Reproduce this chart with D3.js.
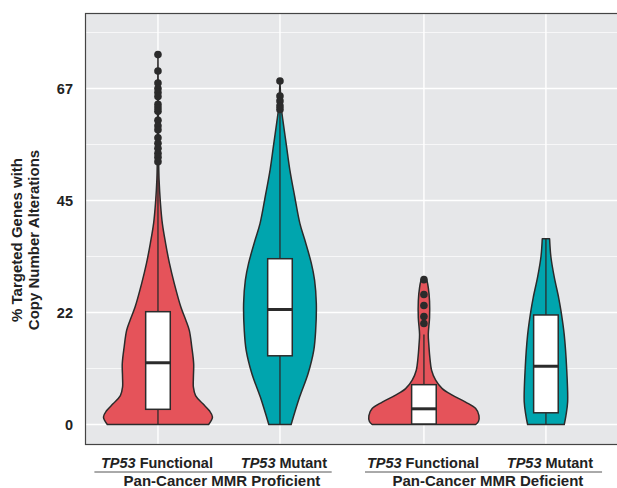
<!DOCTYPE html>
<html>
<head>
<meta charset="utf-8">
<script src="https://cdn.jsdelivr.net/npm/d3@7"></script>
<style>
  html, body { margin: 0; padding: 0; background: #fff; }
  svg text { font-family: "Liberation Sans", Arial, sans-serif; font-weight: bold; fill: #222; }
</style>
</head>
<body>
<svg id="chart" width="617" height="488"></svg>
<script>
// ---- data ----
const groups = ["TP53 Functional", "TP53 Mutant", "TP53 Functional", "TP53 Mutant"];
const groupPos = [1, 2, 3.18, 4.18];
const groupStatus = ["Functional", "Mutant", "Functional", "Mutant"];
const cohortLabels = ["Pan-Cancer MMR Proficient", "Pan-Cancer MMR Deficient"];
const yTickValues = [0, 22.5, 45, 67.5];
const yTickLabels = ["0", "22", "45", "67"];

// violin outlines: [value, relative density]
const violinMMRpFunctional = [[0,0.93],[1.5,1.0],[2.8,0.94],[4.2,0.82],[5.8,0.69],[7.5,0.65],[9.5,0.65],[12.2,0.655],[15.6,0.62],[18.9,0.575],[21,0.51],[23.6,0.42],[28.3,0.30],[32.4,0.21],[36.4,0.14],[40.4,0.08],[44.5,0.045],[49.2,0.02],[52.5,0.013],[60,0.008],[74.3,0]];
const violinMMRpMutant = [[0,0.205],[5.5,0.36],[10.2,0.515],[14.9,0.62],[18.9,0.655],[24.3,0.667],[29,0.635],[32.4,0.575],[37.1,0.455],[40.4,0.365],[45.8,0.27],[51.2,0.18],[55.9,0.12],[60.6,0.06],[63.3,0.028],[69,0]];
const violinMMRdFunctional = [[0,0.95],[0.6,1.0],[1.8,1.01],[3.2,0.95],[4.5,0.765],[5.9,0.52],[7.2,0.336],[8.9,0.215],[10.9,0.14],[13.3,0.11],[16,0.09],[18.1,0.08],[21.4,0.103],[24.8,0.103],[27.5,0.08],[29.2,0.044],[29.7,0.0]];
const violinMMRdMutant = [[0,0.336],[1.8,0.367],[4.5,0.398],[11.3,0.38],[18,0.336],[22.8,0.276],[25.5,0.233],[29.6,0.153],[33.7,0.091],[37.3,0.067]];
const violins = [violinMMRpFunctional, violinMMRpMutant, violinMMRdFunctional, violinMMRdMutant];

// box statistics
const boxLow = [0, 0, 0, 0];
const boxQ1 = [3.05, 13.8, 0.1, 2.35];
const boxMedian = [12.4, 23.1, 3.15, 11.7];
const boxQ3 = [22.66, 33.3, 8.0, 22.0];
const boxHigh = [52.5, 63.3, 18.1, 37.3];

// outliers
const outliersMMRpFunctional = [74.3, 71, 68.6, 67.5, 66.7, 65.9, 64.3, 63.6, 62.9, 61.1, 60, 59.2, 57.6, 56.5, 55.5, 54.5, 53.7, 52.8];
const outliersMMRpMutant = [69, 66, 65, 64, 63.3];
const outliersMMRdFunctional = [29.1, 26.1, 23.9, 21.7, 20.3];
const outliersMMRdMutant = [];
const outliers = [outliersMMRpFunctional, outliersMMRpMutant, outliersMMRdFunctional, outliersMMRdMutant];

// ---- layout ----
const svg = d3.select("#chart");
const panel = { left: 85.5, right: 622, top: 13.5, bottom: 444.5 };
const colors = { Functional: "#E5535A", Mutant: "#00A5AE" };
const ink = "#2b2b2b";

const x = d3.scaleLinear().domain([0.406, 4.8]).range([panel.left, panel.left + (4.8 - 0.406) * 122]);
const y = d3.scaleLinear().domain([-4.02, 82.56]).range([panel.bottom, panel.top]);
const w = d3.scaleLinear().domain([0, 1]).range([0, 54.5]);
const boxHalf = 12.3;

// panel background
svg.append("rect")
  .attr("x", panel.left).attr("y", panel.top)
  .attr("width", panel.right - panel.left).attr("height", panel.bottom - panel.top)
  .attr("fill", "#E6E7E9");

// grid
const minor = yTickValues.map(v => v + 11.25);
svg.append("g").selectAll("line").data(minor).join("line")
  .attr("x1", panel.left).attr("x2", panel.right)
  .attr("y1", d => y(d)).attr("y2", d => y(d))
  .attr("stroke", "#fff").attr("stroke-width", 0.7);
svg.append("g").selectAll("line").data(yTickValues).join("line")
  .attr("x1", panel.left).attr("x2", panel.right)
  .attr("y1", d => y(d)).attr("y2", d => y(d))
  .attr("stroke", "#fff").attr("stroke-width", 1.4);
svg.append("g").selectAll("line").data(groupPos).join("line")
  .attr("x1", d => x(d)).attr("x2", d => x(d))
  .attr("y1", panel.top).attr("y2", panel.bottom)
  .attr("stroke", "#fff").attr("stroke-width", 1.4);

// violins
const area = d3.area().curve(d3.curveCatmullRom.alpha(0.5));
violins.forEach((prof, i) => {
  const cx = x(groupPos[i]);
  area.y(d => y(d[0])).x0(d => cx - w(d[1])).x1(d => cx + w(d[1]));
  svg.append("path").datum(prof)
    .attr("d", area)
    .attr("fill", colors[groupStatus[i]])
    .attr("stroke", ink).attr("stroke-width", 1.5).attr("stroke-linejoin", "round");
});

// boxes
groups.forEach((g, i) => {
  const cx = x(groupPos[i]);
  const gg = svg.append("g");
  gg.append("line").attr("x1", cx).attr("x2", cx).attr("y1", y(boxLow[i])).attr("y2", y(boxQ1[i]))
    .attr("stroke", ink).attr("stroke-width", 1.3);
  gg.append("line").attr("x1", cx).attr("x2", cx).attr("y1", y(boxQ3[i])).attr("y2", y(boxHigh[i]))
    .attr("stroke", ink).attr("stroke-width", 1.3);
  gg.append("rect").attr("x", cx - boxHalf).attr("width", 2 * boxHalf)
    .attr("y", y(boxQ3[i])).attr("height", y(boxQ1[i]) - y(boxQ3[i]))
    .attr("fill", "#fff").attr("stroke", ink).attr("stroke-width", 1.5);
  gg.append("line").attr("x1", cx - boxHalf).attr("x2", cx + boxHalf)
    .attr("y1", y(boxMedian[i])).attr("y2", y(boxMedian[i]))
    .attr("stroke", ink).attr("stroke-width", 3);
});

// outliers
outliers.forEach((arr, i) => {
  svg.append("g").selectAll("circle").data(arr).join("circle")
    .attr("cx", x(groupPos[i])).attr("cy", d => y(d)).attr("r", 3.8)
    .attr("fill", ink);
});

// panel border
svg.append("rect")
  .attr("x", panel.left).attr("y", panel.top)
  .attr("width", panel.right - panel.left).attr("height", panel.bottom - panel.top)
  .attr("fill", "none").attr("stroke", "#444").attr("stroke-width", 1.2);

// y tick labels
svg.append("g").selectAll("text").data(yTickValues).join("text")
  .attr("x", 73).attr("y", d => y(d)).attr("dy", "0.36em")
  .attr("text-anchor", "end").attr("font-size", 14.5)
  .text((d, i) => yTickLabels[i]);

// y title
const yt = svg.append("g").attr("transform", "translate(0,240) rotate(-90)");
yt.append("text").attr("x", 0).attr("y", 22.3).attr("text-anchor", "middle").attr("font-size", 15)
  .text("% Targeted Genes with");
yt.append("text").attr("x", 0).attr("y", 38.8).attr("text-anchor", "middle").attr("font-size", 15)
  .text("Copy Number Alterations");

// x category labels
groups.forEach((g, i) => {
  const parts = g.split(" ");
  const t = svg.append("text").attr("x", x(groupPos[i]) + (groupStatus[i] === "Mutant" ? 4 : -1)).attr("y", 467.5)
    .attr("text-anchor", "middle").attr("font-size", 14.5);
  t.append("tspan").attr("font-style", "italic").text(parts[0]);
  t.append("tspan").text(" " + parts.slice(1).join(" "));
});

// cohort brackets
const cohortSpan = [[0.479, 2.424], [2.697, 4.64]];
cohortLabels.forEach((c, i) => {
  const [a, b] = cohortSpan[i];
  svg.append("line").attr("x1", x(a)).attr("x2", x(b)).attr("y1", 472).attr("y2", 472)
    .attr("stroke", "#555").attr("stroke-width", 1);
  svg.append("text").attr("x", (x(groupPos[2 * i]) + x(groupPos[2 * i + 1])) / 2 + 3).attr("y", 486)
    .attr("text-anchor", "middle").attr("font-size", 15).text(c);
});
</script>
</body>
</html>
